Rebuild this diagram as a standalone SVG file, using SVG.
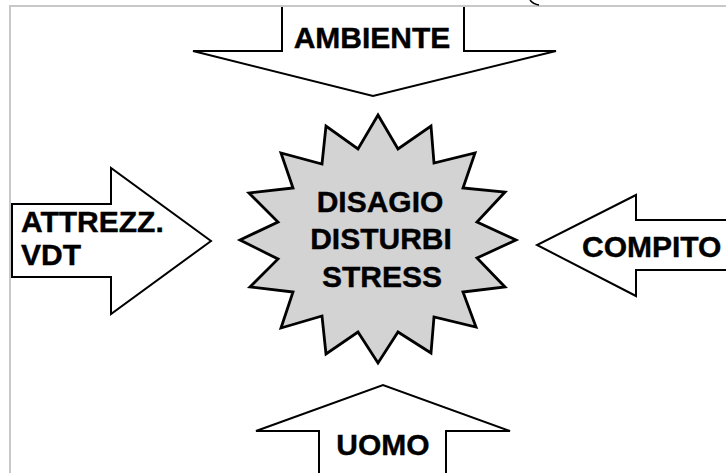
<svg xmlns="http://www.w3.org/2000/svg" width="726" height="473" viewBox="0 0 726 473">
<style>
.arrow{fill:#ffffff;stroke:#000000;stroke-width:2;stroke-linejoin:miter}
.star{fill:#d3d3d3;stroke:#000000;stroke-width:2.8;stroke-linejoin:miter}
.lbl{font-family:"Liberation Sans",Arial,sans-serif;font-weight:bold;font-size:30px;fill:#000000;stroke:#000000;stroke-width:0.4}
.frame{stroke:#c8c8c8;stroke-width:2;fill:none}
</style>
<rect x="0" y="0" width="726" height="473" fill="#ffffff"/>
<g id="connectors">
<g id="arrow-ambiente">
<path class="arrow" d="M282,6 V51 H193 L373,96 L556,51 H464 V6"/>
<text class="lbl" x="372" y="48" text-anchor="middle">AMBIENTE</text>
</g>
<g id="arrow-attrezz">
<path class="arrow" d="M12,204 H111 V168 L211,241 L111,314 V277 H12 Z"/>
<text class="lbl" x="21" y="232">ATTREZZ.</text>
<text class="lbl" x="21" y="265">VDT</text>
</g>
<g id="arrow-compito">
<path class="arrow" d="M727,220 H636 V195 L537,245 L636,296 V270 H727"/>
<text class="lbl" x="582" y="257">COMPITO</text>
</g>
<g id="arrow-uomo">
<path class="arrow" d="M319,474 V431 H256 L383,385 L510,431 H446 V474"/>
<text class="lbl" x="383" y="455" text-anchor="middle">UOMO</text>
</g>
</g>
<g id="node-center">
<polygon class="star" points="378,115 398,149 431,126 434,163 475,153 463,188 505,192 477,222 516,240 477,258 505,287 463,292 476,327 434,317 431,353 398,332 378,363 358,332 326,354 322,316 281,328 293,292 250,287 278,259 240,240 278,222 249,193 293,188 281,153 322,164 326,126 358,149"/>
<text class="lbl" x="380" y="212" text-anchor="middle">DISAGIO</text>
<text class="lbl" x="381" y="249" text-anchor="middle">DISTURBI</text>
<text class="lbl" x="382" y="287" text-anchor="middle">STRESS</text>
</g>
<g id="frame">
<line class="frame" x1="9" y1="6" x2="726" y2="6"/>
<line class="frame" x1="10" y1="6" x2="10" y2="473"/>
<path d="M530,0 Q533,4 539,5" fill="none" stroke="#000" stroke-width="1.5"/>
</g>
</svg>
